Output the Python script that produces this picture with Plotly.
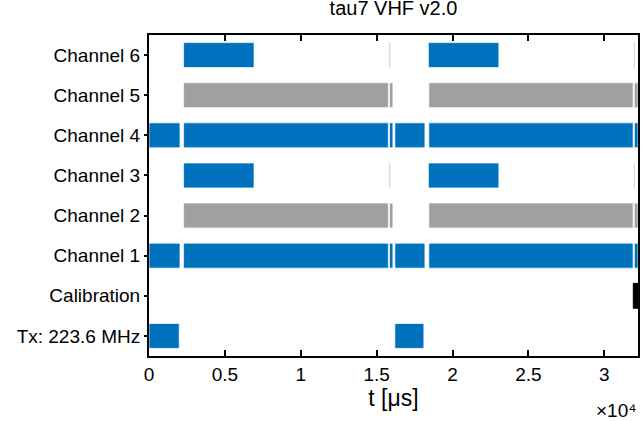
import plotly.graph_objects as go

# Row labels (bottom to top)
row_labels = ["Tx: 223.6 MHz", "Calibration", "Channel 1", "Channel 2",
              "Channel 3", "Channel 4", "Channel 5", "Channel 6"]

# Activity intervals [start, end] in microseconds, per row
tx_starts = [0, 16200]
tx_ends = [1990, 18110]

cal_starts = [31910]
cal_ends = [32220]

ch14_starts = [0, 2280, 15850, 16200, 18440, 31980]
ch14_ends = [2040, 15770, 16070, 18180, 31900, 32220]

ch25_starts = [2280, 15850, 18440, 31980]
ch25_ends = [15770, 16070, 31900, 32220]

ch36_starts = [2280, 18410]
ch36_ends = [6920, 23050]
ch36_sliver_starts = [15850, 31975]
ch36_sliver_ends = [15870, 31995]

x_max = 32220
x_tickvals = [0, 5000, 10000, 15000, 20000, 25000, 30000]
x_ticktext = ["0", "0.5", "1", "1.5", "2", "2.5", "3"]

BLUE = "#0072BD"
GRAY = "#A0A0A0"
BLACK = "#000000"
EDGE = "rgba(255,255,255,0.65)"
SLIVER_EDGE = "rgb(200,222,240)"
FONT = "Liberation Sans, Arial, sans-serif"
BAR_H = 0.62

rows = [
    (0, tx_starts, tx_ends, BLUE, EDGE),
    (1, cal_starts, cal_ends, BLACK, BLACK),
    (2, ch14_starts, ch14_ends, BLUE, EDGE),
    (3, ch25_starts, ch25_ends, GRAY, EDGE),
    (4, ch36_starts, ch36_ends, BLUE, EDGE),
    (4, ch36_sliver_starts, ch36_sliver_ends, BLUE, SLIVER_EDGE),
    (5, ch14_starts, ch14_ends, BLUE, EDGE),
    (6, ch25_starts, ch25_ends, GRAY, EDGE),
    (7, ch36_starts, ch36_ends, BLUE, EDGE),
    (7, ch36_sliver_starts, ch36_sliver_ends, BLUE, SLIVER_EDGE),
]

ys, bases, lens, fills, edges = [], [], [], [], []
for r, starts, ends, fill, edge in rows:
    for s, e in zip(starts, ends):
        ys.append(r)
        bases.append(s)
        lens.append(e - s)
        fills.append(fill)
        edges.append(edge)

fig = go.Figure()
fig.add_trace(go.Bar(
    orientation="h", y=ys, base=bases, x=lens, width=BAR_H,
    marker=dict(color=fills, line=dict(color=edges, width=1)),
    showlegend=False,
))

fig.update_layout(
    width=643, height=421,
    margin=dict(l=149, r=3, t=35, b=65),
    plot_bgcolor="white",
    font=dict(family=FONT, size=19, color="black"),
    title=dict(text="tau7 VHF v2.0", x=0.5, xref="paper", xanchor="center",
               y=0.997, yref="container", yanchor="top",
               font=dict(family=FONT, size=20, color="black")),
    xaxis=dict(
        range=[0, x_max],
        tickvals=x_tickvals, ticktext=x_ticktext,
        ticks="inside", ticklen=6, tickcolor="black", tickwidth=2,
        showline=True, linecolor="black", linewidth=2, mirror="allticks",
        showgrid=False,
        title=dict(text="t [μs]", standoff=6),
    ),
    yaxis=dict(
        range=[-0.5, 7.5],
        tickvals=list(range(len(row_labels))), ticktext=row_labels,
        ticks="outside", ticklen=3, tickcolor="black", tickwidth=2,
        showline=True, linecolor="black", linewidth=2, mirror=True,
        showgrid=False,
    ),
    annotations=[
        dict(text="×10⁴", xref="paper", yref="paper",
             x=1.0, y=0, xanchor="right", yanchor="top", yshift=-42,
             showarrow=False, font=dict(family=FONT, size=19, color="black")),
    ],
)

fig.write_html(
    "out.html",
    config={"displayModeBar": False},
    post_script="document.body.style.margin='0';document.body.style.overflow='hidden';",
)
